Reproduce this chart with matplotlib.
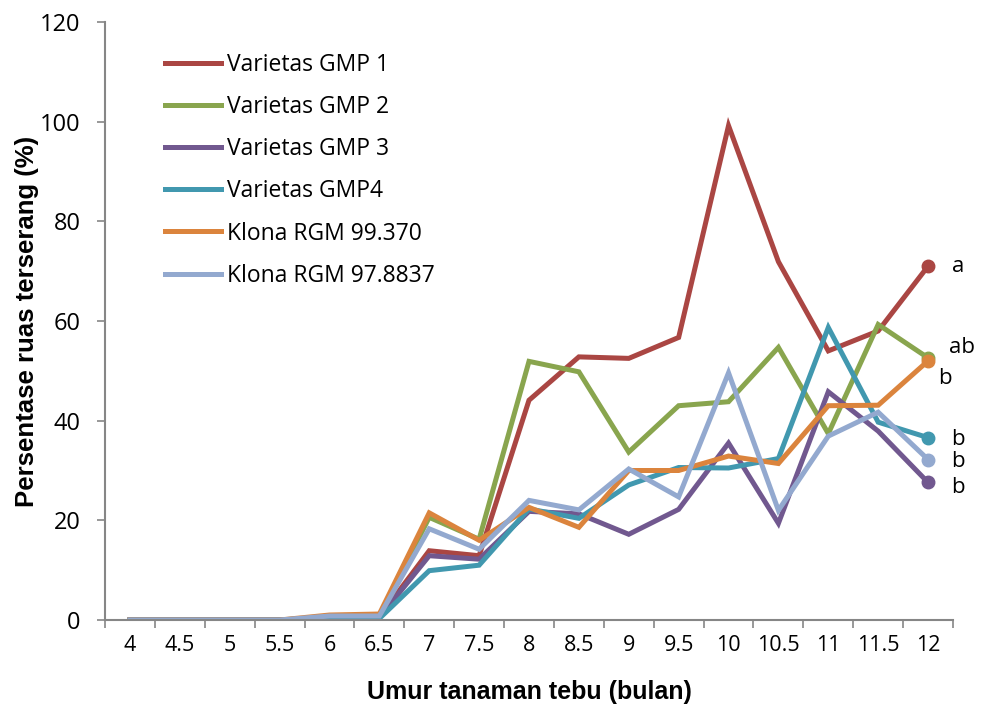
import numpy as np
import matplotlib
matplotlib.use('Agg')
import matplotlib.pyplot as plt

# umur tanaman (bulan)
umur = ['4', '4.5', '5', '5.5', '6', '6.5', '7', '7.5', '8', '8.5',
        '9', '9.5', '10', '10.5', '11', '11.5', '12']

# persentase ruas terserang (%) per varietas / klona
gmp1 = [0, 0, 0, 0, 0.5, 0.6, 13.9, 12.9, 44.1, 52.8, 52.5, 56.7, 99.2, 71.9, 54.0, 58.0, 71.0]
gmp2 = [0, 0, 0, 0, 0.6, 0.8, 20.6, 16.2, 51.9, 49.8, 33.7, 43.0, 43.8, 54.7, 37.4, 59.3, 52.6]
gmp3 = [0, 0, 0, 0, 0.3, 0.5, 12.9, 12.2, 21.8, 21.3, 17.2, 22.2, 35.5, 19.4, 45.8, 37.9, 27.6]
gmp4 = [0, 0, 0, 0, 0.1, 0.3, 9.9, 11.0, 22.3, 20.4, 27.1, 30.6, 30.5, 32.4, 58.7, 39.7, 36.6]
rgm99370 = [0, 0, 0, 0, 1.0, 1.2, 21.5, 16.0, 22.6, 18.6, 30.0, 30.0, 32.9, 31.4, 43.0, 43.1, 52.0]
rgm978837 = [0, 0, 0, 0, 0.8, 0.8, 18.3, 14.2, 24.0, 22.1, 30.3, 24.7, 49.6, 22.0, 36.9, 41.7, 32.2]

nama = ['Varietas GMP 1', 'Varietas GMP 2', 'Varietas GMP 3', 'Varietas GMP4',
        'Klona RGM 99.370', 'Klona RGM 97.8837']
warna = ['#AA4643', '#89A54E', '#71588F', '#4198AF', '#DB843D', '#93A9CF']
notasi = ['a', 'ab', 'b', 'b', 'b', 'b']

data = [gmp1, gmp2, gmp3, gmp4, rgm99370, rgm978837]

plt.rcParams['font.family'] = ['Open Sans', 'DejaVu Sans']

fig = plt.figure(figsize=(9.81, 7.04), dpi=100)
ax = fig.add_axes([105/981, 84/704, 848/981, 598/704])

x = np.arange(len(umur))
for y, n, c in zip(data, nama, warna):
    ax.plot(x, y, color=c, lw=3.6, label=n, solid_joinstyle='miter',
            marker='o', markevery=[len(umur) - 1], markersize=9)

# huruf notasi di ujung garis
posisi_notasi = [(16.47, 71.0), (16.42, 54.6), (16.2, 48.4), (16.47, 36.3), (16.47, 31.9), (16.47, 26.6)]
for (px, py), t in zip(posisi_notasi, notasi):
    ax.text(px, py, t, fontsize=16, va='center', ha='left')

ax.set_xlim(-0.5, len(umur) - 0.5)
ax.set_ylim(0, 120)
ax.set_yticks(np.arange(0, 121, 20))
ax.set_xticks(np.arange(-0.5, len(umur), 1))
ax.set_xticklabels([])
ax.set_xticks(x, minor=True)
ax.set_xticklabels(umur, minor=True)
ax.tick_params(axis='x', which='minor', length=0, pad=11, labelsize=15.5)
ax.tick_params(axis='x', which='major', length=5.5, width=1.2, color='#868686', direction='out')
ax.tick_params(axis='y', length=5.5, width=1.2, color='#868686', direction='out', labelsize=17, pad=12)

for s in ['top', 'right']:
    ax.spines[s].set_visible(False)
for s in ['left', 'bottom']:
    ax.spines[s].set_color('#868686')
    ax.spines[s].set_linewidth(1.5)

ax.set_xlabel('Umur tanaman tebu (bulan)', fontsize=18, fontweight='bold',
              family=['Liberation Sans', 'DejaVu Sans'], labelpad=17)
ax.set_ylabel('Persentase ruas terserang (%)', fontsize=18.5, fontweight='bold',
              family=['Liberation Sans', 'DejaVu Sans'], labelpad=1)

leg = ax.legend(loc='upper left', bbox_to_anchor=(0.0708, 0.948), frameon=False,
                fontsize=16.5, handlelength=2.45, handletextpad=0.27, labelspacing=0.79,
                borderpad=0, borderaxespad=0)
for h in leg.get_lines():
    h.set_marker('')

fig.savefig('out.png', dpi=100)
